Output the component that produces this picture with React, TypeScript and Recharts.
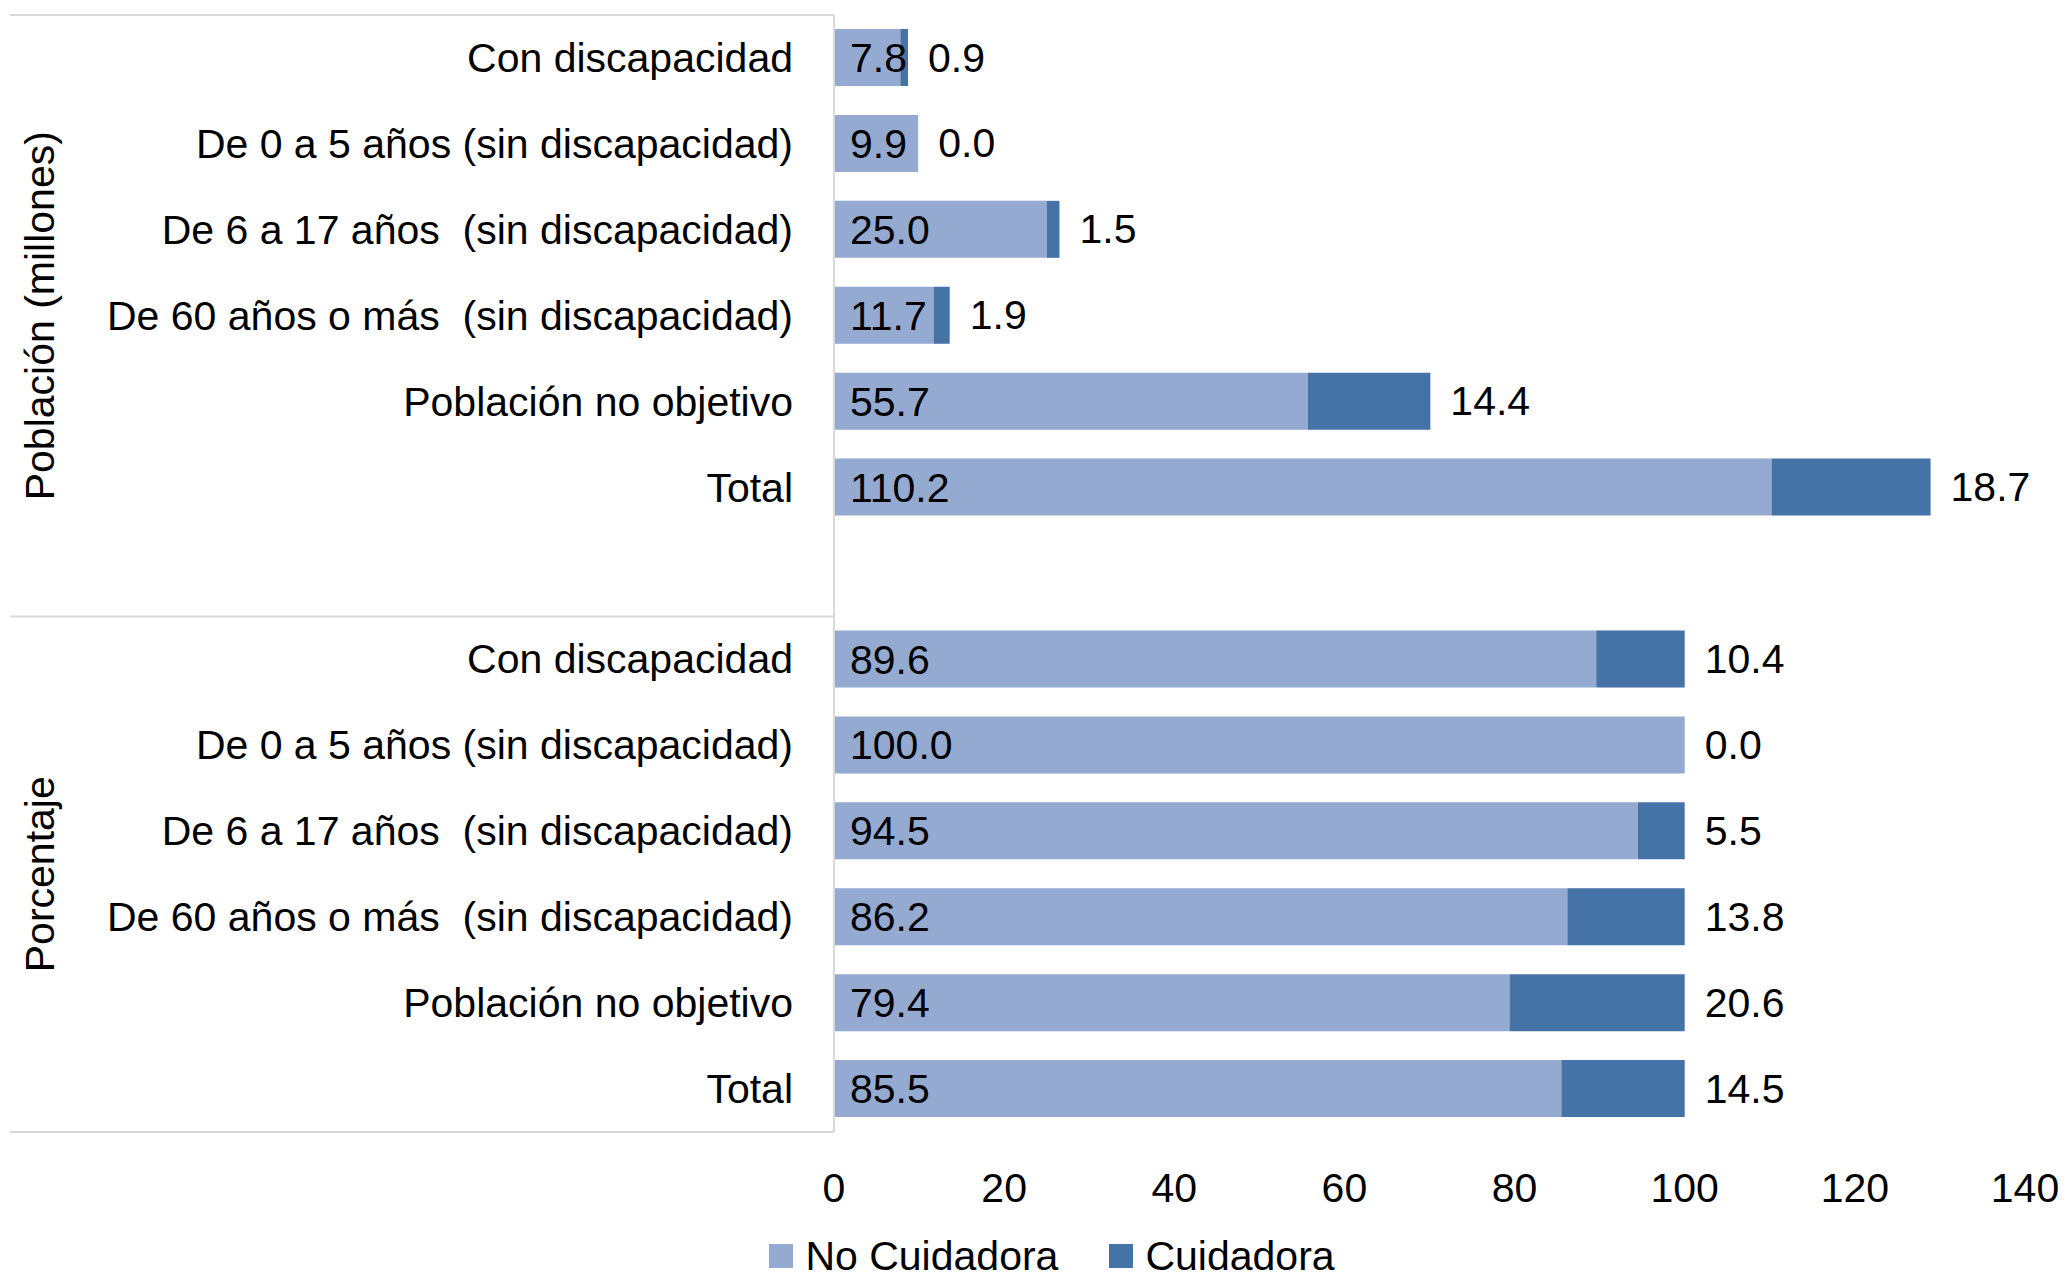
import React from 'react';
import { BarChart, Bar, XAxis, YAxis, Legend, LabelList } from 'recharts';

const categories = [
  'Con discapacidad',
  'De 0 a 5 años (sin discapacidad)',
  'De 6 a 17 años  (sin discapacidad)',
  'De 60 años o más  (sin discapacidad)',
  'Población no objetivo',
  'Total',
];
const groupTitles = ['Población (millones)', 'Porcentaje'];
const seriesNames = ['No Cuidadora', 'Cuidadora'];

const poblacionNoCuidadora = [7.8, 9.9, 25.0, 11.7, 55.7, 110.2];
const poblacionCuidadora = [0.9, 0.0, 1.5, 1.9, 14.4, 18.7];
const porcentajeNoCuidadora = [89.6, 100.0, 94.5, 86.2, 79.4, 85.5];
const porcentajeCuidadora = [10.4, 0.0, 5.5, 13.8, 20.6, 14.5];

const xTicks = [0, 20, 40, 60, 80, 100, 120, 140];

const LIGHT = '#95aad0';
const DARK = '#4572a7';
const GRID = '#d9d9d9';
const FONT = '"Liberation Sans", Arial, sans-serif';
const FS = 41;

const W = 2069;
const H = 1280;
const MARGIN = { top: 15, right: 44, bottom: 0, left: 0 };
const Y_W = 834;
const X_H = 100;
const LEGEND_H = 48;
const TICK_GAP = 41;

// table: poblacion rows, an empty slot, then porcentaje rows
const rows = [
  ...categories.map((c, i) => ({ id: 'pob' + i, label: c, no: poblacionNoCuidadora[i], cuid: poblacionCuidadora[i] })),
  { id: 'gap', label: '', no: null, cuid: null },
  ...categories.map((c, i) => ({ id: 'pct' + i, label: c, no: porcentajeNoCuidadora[i], cuid: porcentajeCuidadora[i] })),
];
// rows that actually get a bar (the empty slot gets no label entry)
const barRows = rows.filter((r) => r.no != null);

const PLOT_H = H - MARGIN.top - MARGIN.bottom - X_H - LEGEND_H;
const BAND = PLOT_H / rows.length;

const fmt = (v: any) => (v == null ? '' : Number(v).toFixed(1));

const YTick = (props: any) => {
  const { x, y, index } = props;
  const row = rows[index];
  const axisX = x + TICK_GAP;
  const items: any[] = [];
  if (index === 0) {
    items.push(<line key="t" x1={10} x2={axisX} y1={y - BAND / 2} y2={y - BAND / 2} stroke={GRID} strokeWidth={2} />);
  }
  if (index === categories.length || index === rows.length - 1) {
    items.push(<line key="b" x1={10} x2={axisX} y1={y + BAND / 2} y2={y + BAND / 2} stroke={GRID} strokeWidth={2} />);
  }
  if (index === 3) {
    items.push(
      <text key="g1" x={40} y={y} transform={`rotate(-90, 40, ${y})`} textAnchor="middle" dominantBaseline="central"
        fontFamily={FONT} fontSize={FS} fill="#000">{groupTitles[0]}</text>
    );
  }
  if (index === 9) {
    const cy = y + BAND / 2;
    items.push(
      <text key="g2" x={40} y={cy} transform={`rotate(-90, 40, ${cy})`} textAnchor="middle" dominantBaseline="central"
        fontFamily={FONT} fontSize={FS} fill="#000">{groupTitles[1]}</text>
    );
  }
  return (
    <g>
      {items}
      <text x={x} y={y} textAnchor="end" dominantBaseline="central" fontFamily={FONT} fontSize={FS} fill="#000"
        style={{ whiteSpace: 'pre' }}>{row ? row.label : ''}</text>
    </g>
  );
};

// Cuidadora value, written right of the stacked bar end (also for 0.0 values)
const CuidLabel = (props: any) => {
  const { x, y, width, height, index } = props;
  const row = barRows[index];
  if (!row || row.no == null || row.cuid == null) return null;
  const end = x + (width * (row.no + row.cuid)) / row.no;
  return (
    <text x={end + 20} y={y + height / 2} dominantBaseline="central" fontFamily={FONT} fontSize={FS} fill="#000">
      {fmt(row.cuid)}
    </text>
  );
};

const LegendContent = (props: any) => {
  const items = [...(props.payload || [])].sort(
    (a: any, b: any) => seriesNames.indexOf(a.value) - seriesNames.indexOf(b.value)
  );
  return (
    <div style={{ display: 'flex', justifyContent: 'center', alignItems: 'center', height: LEGEND_H, paddingLeft: 130,
      fontFamily: FONT, fontSize: FS, color: '#000', lineHeight: 1 }}>
      {items.map((p: any) => (
        <span key={p.value} style={{ display: 'flex', alignItems: 'center', marginRight: 51 }}>
          <span style={{ width: 24, height: 24, background: p.color, marginRight: 12, display: 'inline-block' }} />
          {p.value}
        </span>
      ))}
    </div>
  );
};

export default function App() {
  return (
    <div style={{ position: 'fixed', left: 0, top: 0, width: W, height: H, background: '#fff' }}>
      <BarChart width={W} height={H} data={rows} layout="vertical" margin={MARGIN} barSize={57}>
        <XAxis type="number" domain={[0, 140]} ticks={xTicks} axisLine={false} tickLine={false} tickSize={0}
          tickMargin={41} height={X_H} interval={0}
          tick={{ fontFamily: FONT, fontSize: FS, fill: '#000' }} />
        <YAxis type="category" dataKey="id" width={Y_W} axisLine={{ stroke: GRID, strokeWidth: 2 }} tickLine={false}
          tickSize={0} tickMargin={TICK_GAP} interval={0} tick={<YTick />} />
        <Legend verticalAlign="bottom" height={LEGEND_H} content={<LegendContent />} />
        <Bar dataKey="no" name={seriesNames[0]} stackId="a" fill={LIGHT} isAnimationActive={false}>
          <LabelList dataKey="no" position="insideLeft" offset={16} formatter={fmt}
            style={{ fontFamily: FONT, fontSize: FS, fill: '#000' }} />
          <LabelList dataKey="cuid" content={<CuidLabel />} />
        </Bar>
        <Bar dataKey="cuid" name={seriesNames[1]} stackId="a" fill={DARK} isAnimationActive={false} />
      </BarChart>
    </div>
  );
}
